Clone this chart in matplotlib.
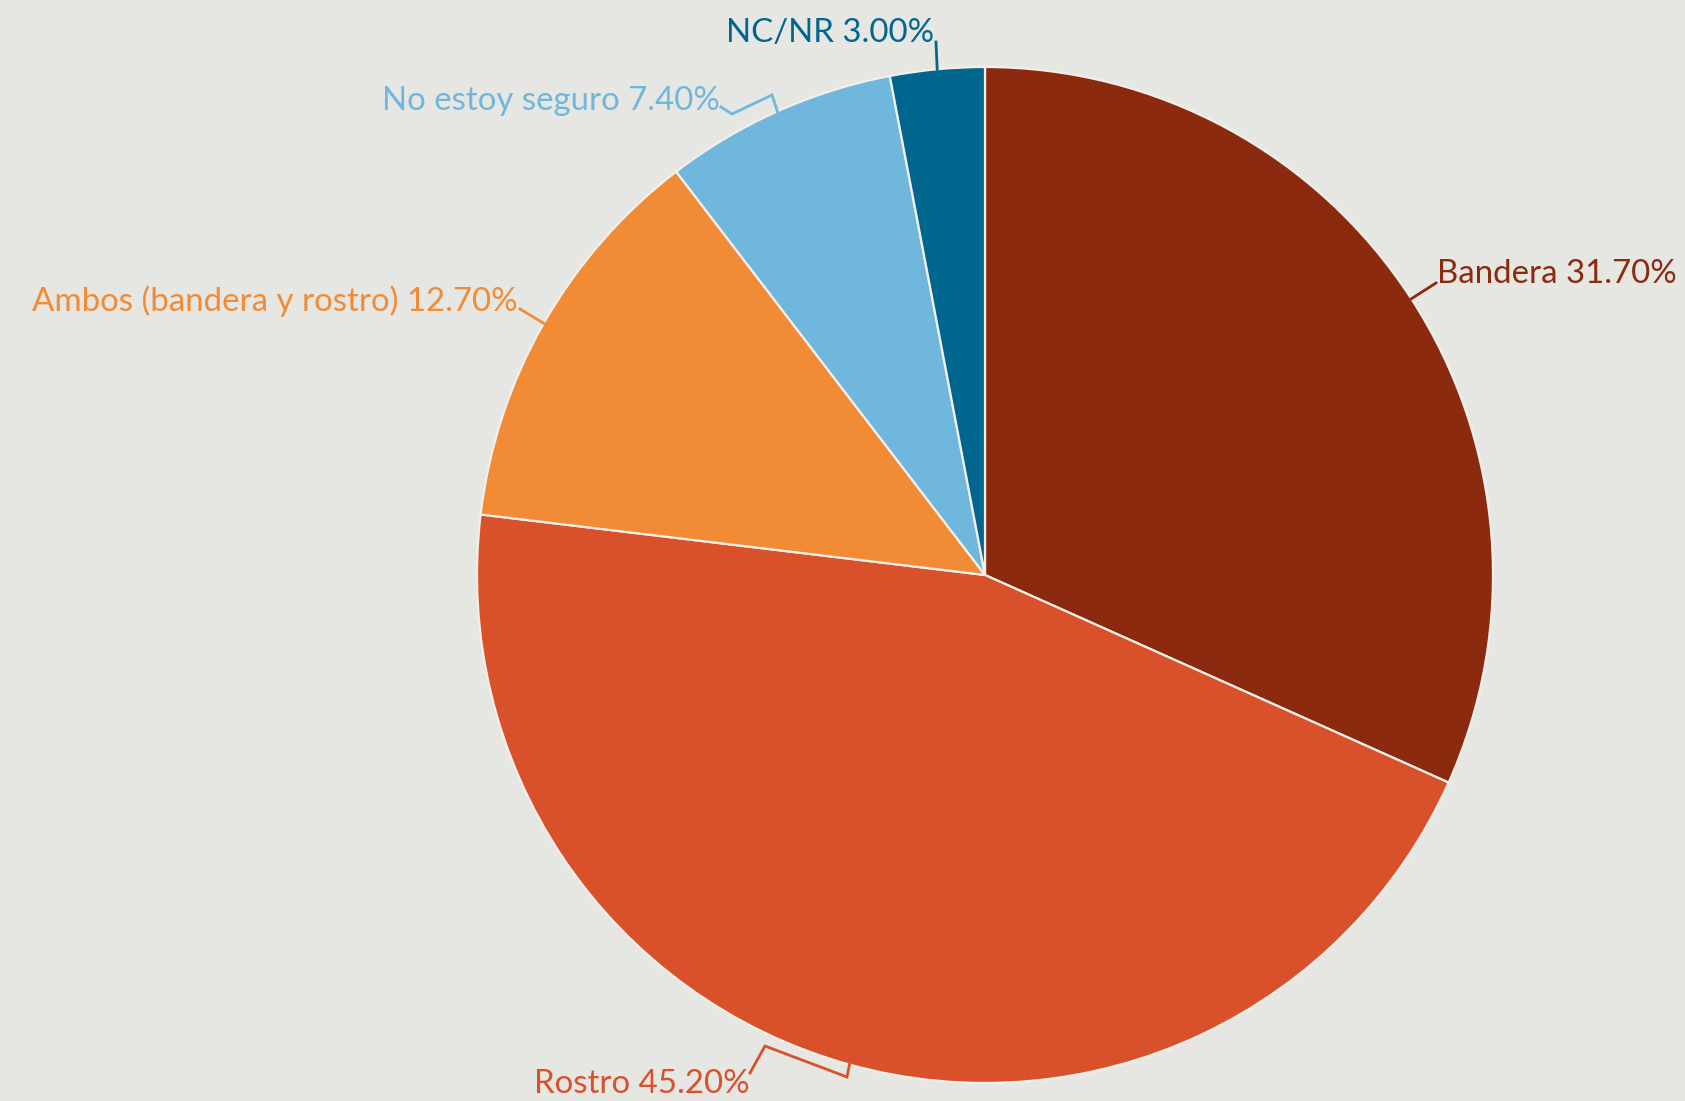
import numpy as np
import matplotlib
matplotlib.use("Agg")
import matplotlib.pyplot as plt

# data
labels = ["Bandera", "Rostro", "Ambos (bandera y rostro)", "No estoy seguro", "NC/NR"]
values = [31.7, 45.2, 12.7, 7.4, 3.0]
colors = ["#8b2a0e", "#d9512a", "#f28b36", "#6fb7dc", "#00668e"]

W, H = 1685, 1101
bg = "#e6e6e3"

fig = plt.figure(figsize=(W / 100, H / 100), dpi=100, facecolor=bg)
ax = fig.add_axes([0, 0, 1, 1], facecolor=bg)

cx, cy, r = 985, H - 575, 508
wedges, _ = ax.pie(values, colors=colors, startangle=90, counterclock=False,
                   center=(cx, cy), radius=r,
                   wedgeprops=dict(edgecolor="#f4efe8", linewidth=1.6))
ax.set_xlim(0, W)
ax.set_ylim(0, H)
ax.set_aspect("auto")
ax.axis("off")

# label placement (image px: text x, text y, alignment, leader waypoints)
layout = [
    (1437, 274, "left", [(1436, 283)]),
    (750, 1084, "right", [(847, 1077), (765, 1046), (750, 1073)]),
    (518, 301, "right", [(520, 309)]),
    (720, 101, "right", [(772, 95), (732, 114), (721, 107)]),
    (934, 33, "right", [(936, 42)]),
]

for w, lab, v, col, (tx, ty, ha, pts) in zip(wedges, labels, values, colors, layout):
    mid = np.deg2rad((w.theta1 + w.theta2) / 2)
    ex, ey = cx + r * np.cos(mid), cy + r * np.sin(mid)
    xs = [ex] + [p[0] for p in pts]
    ys = [ey] + [H - p[1] for p in pts]
    ax.plot(xs, ys, color=col, lw=2, solid_joinstyle="miter")
    ax.text(tx, H - ty, f"{lab} {v:.2f}%", color=col, ha=ha, va="center",
            fontsize=23.8, family="Lato")

fig.savefig("out.png", dpi=100, facecolor=bg)
